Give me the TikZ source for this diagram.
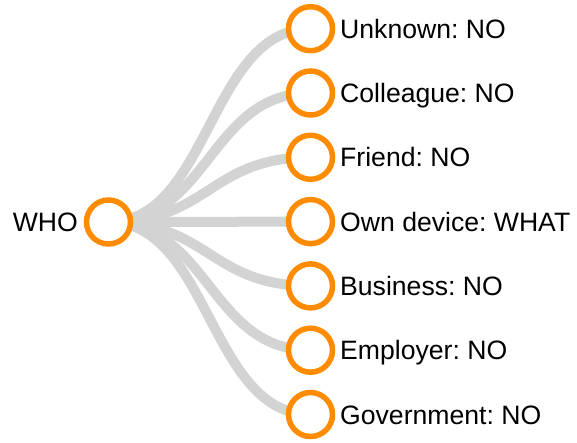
\documentclass[tikz,border=0pt]{standalone}
\usepackage{fontspec}
\setmainfont{Liberation Sans}
\usetikzlibrary{calc,backgrounds}
\definecolor{ring}{HTML}{FF8C00}
\definecolor{linkgray}{HTML}{D3D3D3}
\begin{document}
\frenchspacing
\begin{tikzpicture}[x=1pt,y=-1pt,
  dot/.style={circle,draw=ring,line width=5.5pt,fill=white,minimum size=44pt,inner sep=0pt},
  lnk/.style={draw=linkgray,line width=10pt},
  lbl/.style={inner sep=0pt,font=\fontsize{26.6}{30}\selectfont}]
\useasboundingbox (0,0) rectangle (577,442);
\node[dot] (root) at (108.5,222) {};
\node[lbl,anchor=base east] (tw) at ($(root.center)+(-30.5,9.5)$) {WHO};
\foreach \i/\t in {0/{Unknown: NO},1/{Colleague: NO},2/{Friend: NO},3/{Own device: WHAT},4/{Business: NO},5/{Employer: NO},6/{Government: NO}}{
  \node[dot] (c\i) at (310.5,{28.7+64.3*\i}) {};
  \node[lbl,anchor=base west] (t\i) at ($(c\i.center)+(29.5,9.5)$) {\t};
}
\begin{scope}[on background layer]
\foreach \i in {0,...,6}{
  \coordinate (m\i) at ($(root.center)!0.5!(c\i.center)$);
  \draw[lnk] (root.center) .. controls (m\i |- root.center) and (m\i |- c\i.center) .. (c\i.center);
}
\end{scope}
\end{tikzpicture}
\end{document}
